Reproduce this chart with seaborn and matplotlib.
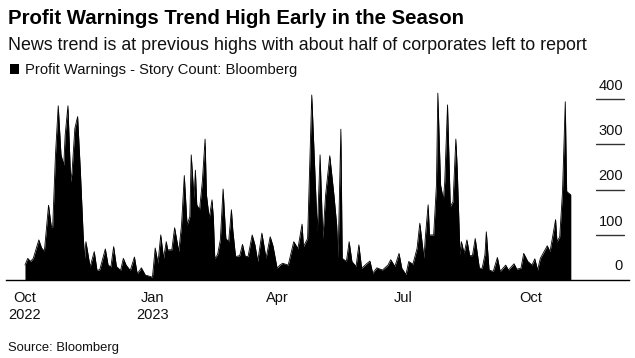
import matplotlib
matplotlib.use("Agg")
import matplotlib.pyplot as plt
import matplotlib.transforms as mtransforms
import seaborn as sns
import pandas as pd

# ---- data ----
start_date = "2022-10-01"
day_offsets = [0, 2, 4, 6, 10, 12, 14, 17, 19, 20, 22, 24, 26, 28, 29, 31, 33, 34, 36, 38, 40, 42, 43, 44,
               47, 50, 52, 54, 58, 60, 62, 64, 66, 69, 71, 73, 76, 79, 81, 83, 84, 87, 88, 91, 92, 94, 96,
               98, 100, 102, 103, 106, 108, 111, 113, 115, 117, 119, 120, 122, 123, 124, 126, 128, 130,
               131, 133, 135, 136, 137, 139, 141, 143, 145, 147, 149, 150, 152, 155, 157, 159, 161, 164,
               166, 168, 171, 174, 177, 179, 182, 184, 186, 190, 194, 197, 200, 201, 204, 207, 211, 213,
               215, 217, 220, 223, 225, 226, 228, 229, 232, 234, 236, 239, 241, 243, 247, 249, 251, 254,
               258, 262, 264, 267, 270, 272, 275, 277, 280, 283, 285, 288, 289, 291, 292, 295, 297, 298,
               300, 302, 303, 305, 307, 309, 311, 312, 314, 315, 317, 319, 321, 323, 325, 328, 330, 332,
               333, 335, 338, 341, 343, 347, 349, 353, 355, 358, 360, 363, 366, 368, 370, 372, 374, 377,
               379, 381, 383, 384, 386, 388, 390, 391, 392, 394]
story_count = [32, 47, 40, 47, 88, 70, 63, 165, 117, 117, 277, 386, 277, 254, 321, 386, 217, 240, 336, 362,
               240, 99, 47, 84, 28, 62, 20, 22, 68, 32, 28, 73, 29, 20, 47, 32, 20, 50, 13, 21, 26, 9, 9,
               6, 5, 70, 36, 99, 47, 84, 66, 66, 115, 62, 121, 231, 121, 140, 277, 180, 243, 166, 155,
               217, 312, 188, 136, 177, 136, 47, 55, 88, 201, 91, 84, 155, 110, 51, 53, 78, 51, 51, 99,
               77, 40, 103, 47, 95, 75, 25, 32, 36, 32, 84, 69, 123, 73, 91, 410, 106, 277, 91, 188, 275,
               188, 121, 47, 334, 47, 40, 84, 40, 29, 77, 25, 36, 41, 14, 26, 21, 32, 44, 29, 58, 25, 11,
               40, 34, 69, 125, 47, 95, 166, 99, 99, 210, 414, 210, 177, 217, 388, 162, 173, 312, 247,
               55, 84, 58, 88, 53, 53, 91, 25, 25, 55, 106, 21, 18, 49, 18, 32, 21, 35, 23, 25, 58, 40,
               32, 46, 21, 47, 58, 75, 62, 97, 133, 84, 95, 195, 395, 196, 193, 188]
y_ticks = [0, 100, 200, 300, 400]
x_tick_dates = ["2022-10-01", "2023-01-01", "2023-04-01", "2023-07-01", "2023-10-01"]
x_tick_labels = ["Oct\n2022", "Jan\n2023", "Apr", "Jul", "Oct"]

title = "Profit Warnings Trend High Early in the Season"
subtitle = "News trend is at previous highs with about half of corporates left to report"
legend_label = "Profit Warnings - Story Count: Bloomberg"
source = "Source: Bloomberg"

df = pd.DataFrame({
    "date": pd.Timestamp(start_date) + pd.to_timedelta(day_offsets, unit="D"),
    "count": story_count,
})

# ---- figure ----
sns.set_theme(style="white")
plt.rcParams["font.family"] = ["Liberation Sans", "DejaVu Sans"]

W, H = 635, 358
fig = plt.figure(figsize=(W / 100, H / 100), dpi=100)
fig.patch.set_facecolor("white")

ax_left, ax_right = 6, 629
y_base, y_top = 279.5, 90.5
ax = fig.add_axes([ax_left / W, (H - y_base) / H, (ax_right - ax_left) / W, (y_base - y_top) / H])
ax.set_facecolor("white")

sns.lineplot(data=df, x="date", y="count", ax=ax, color="black", linewidth=0.6)
ax.fill_between(df["date"], 0, df["count"], color="black", linewidth=0)

start = pd.Timestamp(start_date)
ax.set_xlim(start - pd.Timedelta(days=13.7), start + pd.Timedelta(days=436))
ax.set_ylim(0, 420)

for s in ["top", "right", "left"]:
    ax.spines[s].set_visible(False)
ax.spines["bottom"].set_color("black")
ax.spines["bottom"].set_linewidth(1.0)

ax.set_xticks(pd.to_datetime(x_tick_dates))
ax.set_xticklabels(x_tick_labels, fontsize=10.5, linespacing=1.28, color="#111111")
ax.tick_params(axis="x", direction="out", length=4, width=1, color="#8a8a8a", pad=4.5)
ax.set_yticks([])
ax.set_xlabel("")
ax.set_ylabel("")

# right-side value labels with short rules underneath
trans = mtransforms.blended_transform_factory(ax.transAxes, ax.transData)
x0 = (596 - ax_left) / (ax_right - ax_left)
x1 = (624 - ax_left) / (ax_right - ax_left)
for v in y_ticks:
    if v > 0:
        ax.plot([x0, x1], [v, v], transform=trans, color="#333333", linewidth=1.0, clip_on=False)
    ax.annotate(str(v), xy=(1, v), xycoords=trans, xytext=(-6 * 0.72, 6 * 0.72),
                textcoords="offset points", ha="right", va="bottom", fontsize=10.5, color="#111111")

# titles
fig.text(8 / W, 1 - 24 / H, title, fontsize=14.7, fontweight="bold", color="black", va="baseline")
fig.text(8 / W, 1 - 49.5 / H, subtitle, fontsize=12.9, color="#111111", va="baseline")
fig.patches.append(plt.Rectangle((10 / W, 1 - 74 / H), 9 / W, 10 / H, transform=fig.transFigure,
                                 facecolor="black", edgecolor="none"))
fig.text(25 / W, 1 - 74 / H, legend_label, fontsize=10.6, color="#111111", va="baseline")
fig.text(8 / W, 1 - 351.5 / H, source, fontsize=9.4, color="#111111", va="baseline")

fig.savefig("out.png", dpi=100, facecolor="white")
